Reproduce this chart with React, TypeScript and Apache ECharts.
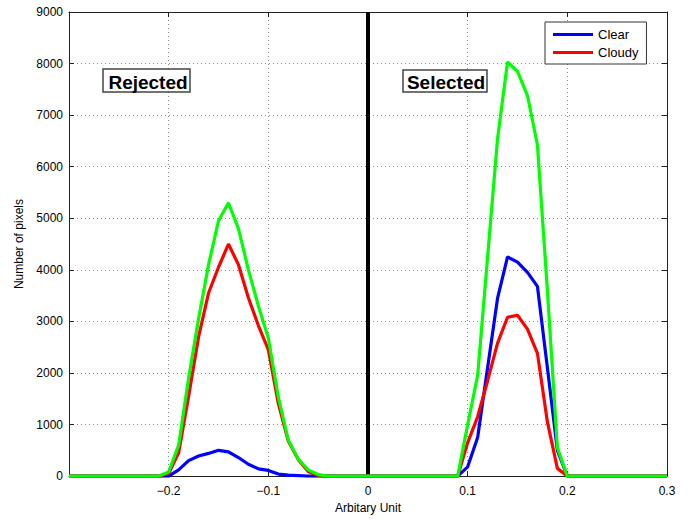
import React, { useEffect, useRef } from "react";
import * as echarts from "echarts";

// x positions (Arbitary Unit)
const xs = [
  -0.3, -0.21, -0.2, -0.19, -0.18, -0.17, -0.16, -0.15, -0.14, -0.13, -0.12, -0.11, -0.1,
  -0.09, -0.08, -0.07, -0.06, -0.05, -0.04, -0.03,
  0.08, 0.09, 0.1, 0.11, 0.12, 0.13, 0.14, 0.15, 0.16, 0.17, 0.18, 0.19, 0.2, 0.21, 0.3,
];

const clearVals = [
  0, 0, 0, 120, 300, 390, 440, 500, 470, 360, 230, 140, 110,
  40, 20, 10, 0, 0, 0, 0,
  0, 0, 180, 750, 2100, 3450, 4250, 4150, 3950, 3680, 2100, 500, 0, 0, 0,
];

const cloudyVals = [
  0, 0, 50, 450, 1550, 2700, 3550, 4050, 4500, 4100, 3460, 2920, 2450,
  1410, 680, 320, 90, 10, 0, 0,
  0, 0, 650, 1150, 1850, 2580, 3080, 3120, 2850, 2380, 1050, 150, 0, 0, 0,
];

const totalVals = [
  0, 0, 80, 600, 1900, 3050, 4100, 4950, 5300, 4800, 4000, 3300, 2680,
  1540, 700, 330, 120, 30, 0, 0,
  0, 0, 1000, 1950, 4250, 6550, 8030, 7850, 7380, 6420, 3600, 550, 0, 0, 0,
];

const dividerX = [0, 0];
const dividerY = [0, 9000];

const FONT = "Liberation Sans, Arial, Helvetica, sans-serif";

function fmtX(v: number): string {
  if (Math.abs(v + 0.3) < 1e-9) return "";
  if (Math.abs(v) < 1e-9) return "0";
  return (v < 0 ? "\u2212" : "") + Math.abs(v).toFixed(1);
}

export default function App() {
  const ref = useRef<HTMLDivElement>(null);
  useEffect(() => {
    if (!ref.current) return;
    const chart = echarts.init(ref.current, undefined, { renderer: "svg" });
    const pair = (vals: number[]) => xs.map((x, i) => [x, vals[i]]);
    const frameColor = "#222";
    chart.setOption({
      animation: false,
      backgroundColor: "#fff",
      grid: { left: 69, right: 25, top: 12, bottom: 37 },
      legend: {
        data: ["Clear", "Cloudy"],
        orient: "vertical",
        left: 545,
        top: 22,
        icon: "rect",
        itemWidth: 40,
        itemHeight: 3,
        itemGap: 5,
        padding: [6, 8, 5, 8],
        borderColor: "#333",
        borderWidth: 1,
        backgroundColor: "#fff",
        textStyle: { fontSize: 13, color: "#000", fontFamily: FONT },
      },
      xAxis: [
        {
          type: "value",
          min: -0.3,
          max: 0.3,
          interval: 0.1,
          position: "bottom",
          name: "Arbitary Unit",
          nameLocation: "middle",
          nameGap: 21,
          nameTextStyle: { fontSize: 12, color: "#000", fontFamily: FONT },
          axisLine: { show: true, onZero: false, lineStyle: { color: frameColor, width: 1 } },
          axisTick: { show: true, inside: true, length: 5, lineStyle: { color: frameColor } },
          axisLabel: { formatter: fmtX, color: "#000", fontSize: 12, margin: 9, fontFamily: FONT },
          splitLine: { show: true, lineStyle: { type: [1, 3], color: "#888", width: 1 } },
        },
        {
          type: "value",
          min: -0.3,
          max: 0.3,
          interval: 0.1,
          position: "top",
          axisLine: { show: true, onZero: false, lineStyle: { color: frameColor, width: 1 } },
          axisTick: { show: true, inside: true, length: 5, lineStyle: { color: frameColor } },
          axisLabel: { show: false },
          splitLine: { show: false },
        },
      ],
      yAxis: [
        {
          type: "value",
          min: 0,
          max: 9000,
          interval: 1000,
          position: "left",
          name: "Number of pixels",
          nameLocation: "middle",
          nameGap: 37,
          nameTextStyle: { fontSize: 12, color: "#000", fontFamily: FONT },
          axisLine: { show: true, onZero: false, lineStyle: { color: frameColor, width: 1 } },
          axisTick: { show: true, inside: true, length: 5, lineStyle: { color: frameColor } },
          axisLabel: {
            formatter: (v: number) => String(v),
            color: "#000",
            fontSize: 12,
            margin: 6,
            fontFamily: FONT,
          },
          splitLine: { show: true, lineStyle: { type: [1, 3], color: "#888", width: 1 } },
        },
        {
          type: "value",
          min: 0,
          max: 9000,
          interval: 1000,
          position: "right",
          axisLine: { show: true, onZero: false, lineStyle: { color: frameColor, width: 1 } },
          axisTick: { show: true, inside: true, length: 5, lineStyle: { color: frameColor } },
          axisLabel: { show: false },
          splitLine: { show: false },
        },
      ],
      series: [
        {
          name: "divider",
          type: "line",
          data: dividerX.map((x, i) => [x, dividerY[i]]),
          showSymbol: false,
          symbol: "none",
          silent: true,
          lineStyle: { color: "#000", width: 4 },
          z: 2,
        },
        {
          name: "Clear",
          type: "line",
          data: pair(clearVals),
          symbol: "none",
          color: "#0000ff",
          lineStyle: { color: "#0000ff", width: 3.2 },
          z: 3,
        },
        {
          name: "Cloudy",
          type: "line",
          data: pair(cloudyVals),
          symbol: "none",
          color: "#ff0000",
          lineStyle: { color: "#ff0000", width: 3.2 },
          z: 4,
        },
        {
          name: "Total",
          type: "line",
          data: pair(totalVals),
          symbol: "none",
          color: "#00ff00",
          lineStyle: { color: "#00ff00", width: 3.2 },
          z: 5,
        },
      ],
      graphic: [
        {
          type: "rect",
          shape: { x: 103, y: 69, width: 87, height: 23 },
          style: { fill: "#fff", stroke: "#444", lineWidth: 1.5 },
          z: 100,
        },
        {
          type: "text",
          x: 148,
          y: 82,
          style: {
            text: "Rejected",
            font: "bold 19px " + FONT,
            fill: "#000",
            align: "center",
            verticalAlign: "middle",
          },
          z: 101,
        },
        {
          type: "rect",
          shape: { x: 403, y: 70, width: 84, height: 22 },
          style: { fill: "#fff", stroke: "#444", lineWidth: 1.5 },
          z: 100,
        },
        {
          type: "text",
          x: 446,
          y: 82.5,
          style: {
            text: "Selected",
            font: "bold 19px " + FONT,
            fill: "#000",
            align: "center",
            verticalAlign: "middle",
          },
          z: 101,
        },
      ],
    });
    return () => chart.dispose();
  }, []);
  return (
    <div
      ref={ref}
      style={{ position: "fixed", left: 0, top: 0, width: 692, height: 519 }}
    />
  );
}
